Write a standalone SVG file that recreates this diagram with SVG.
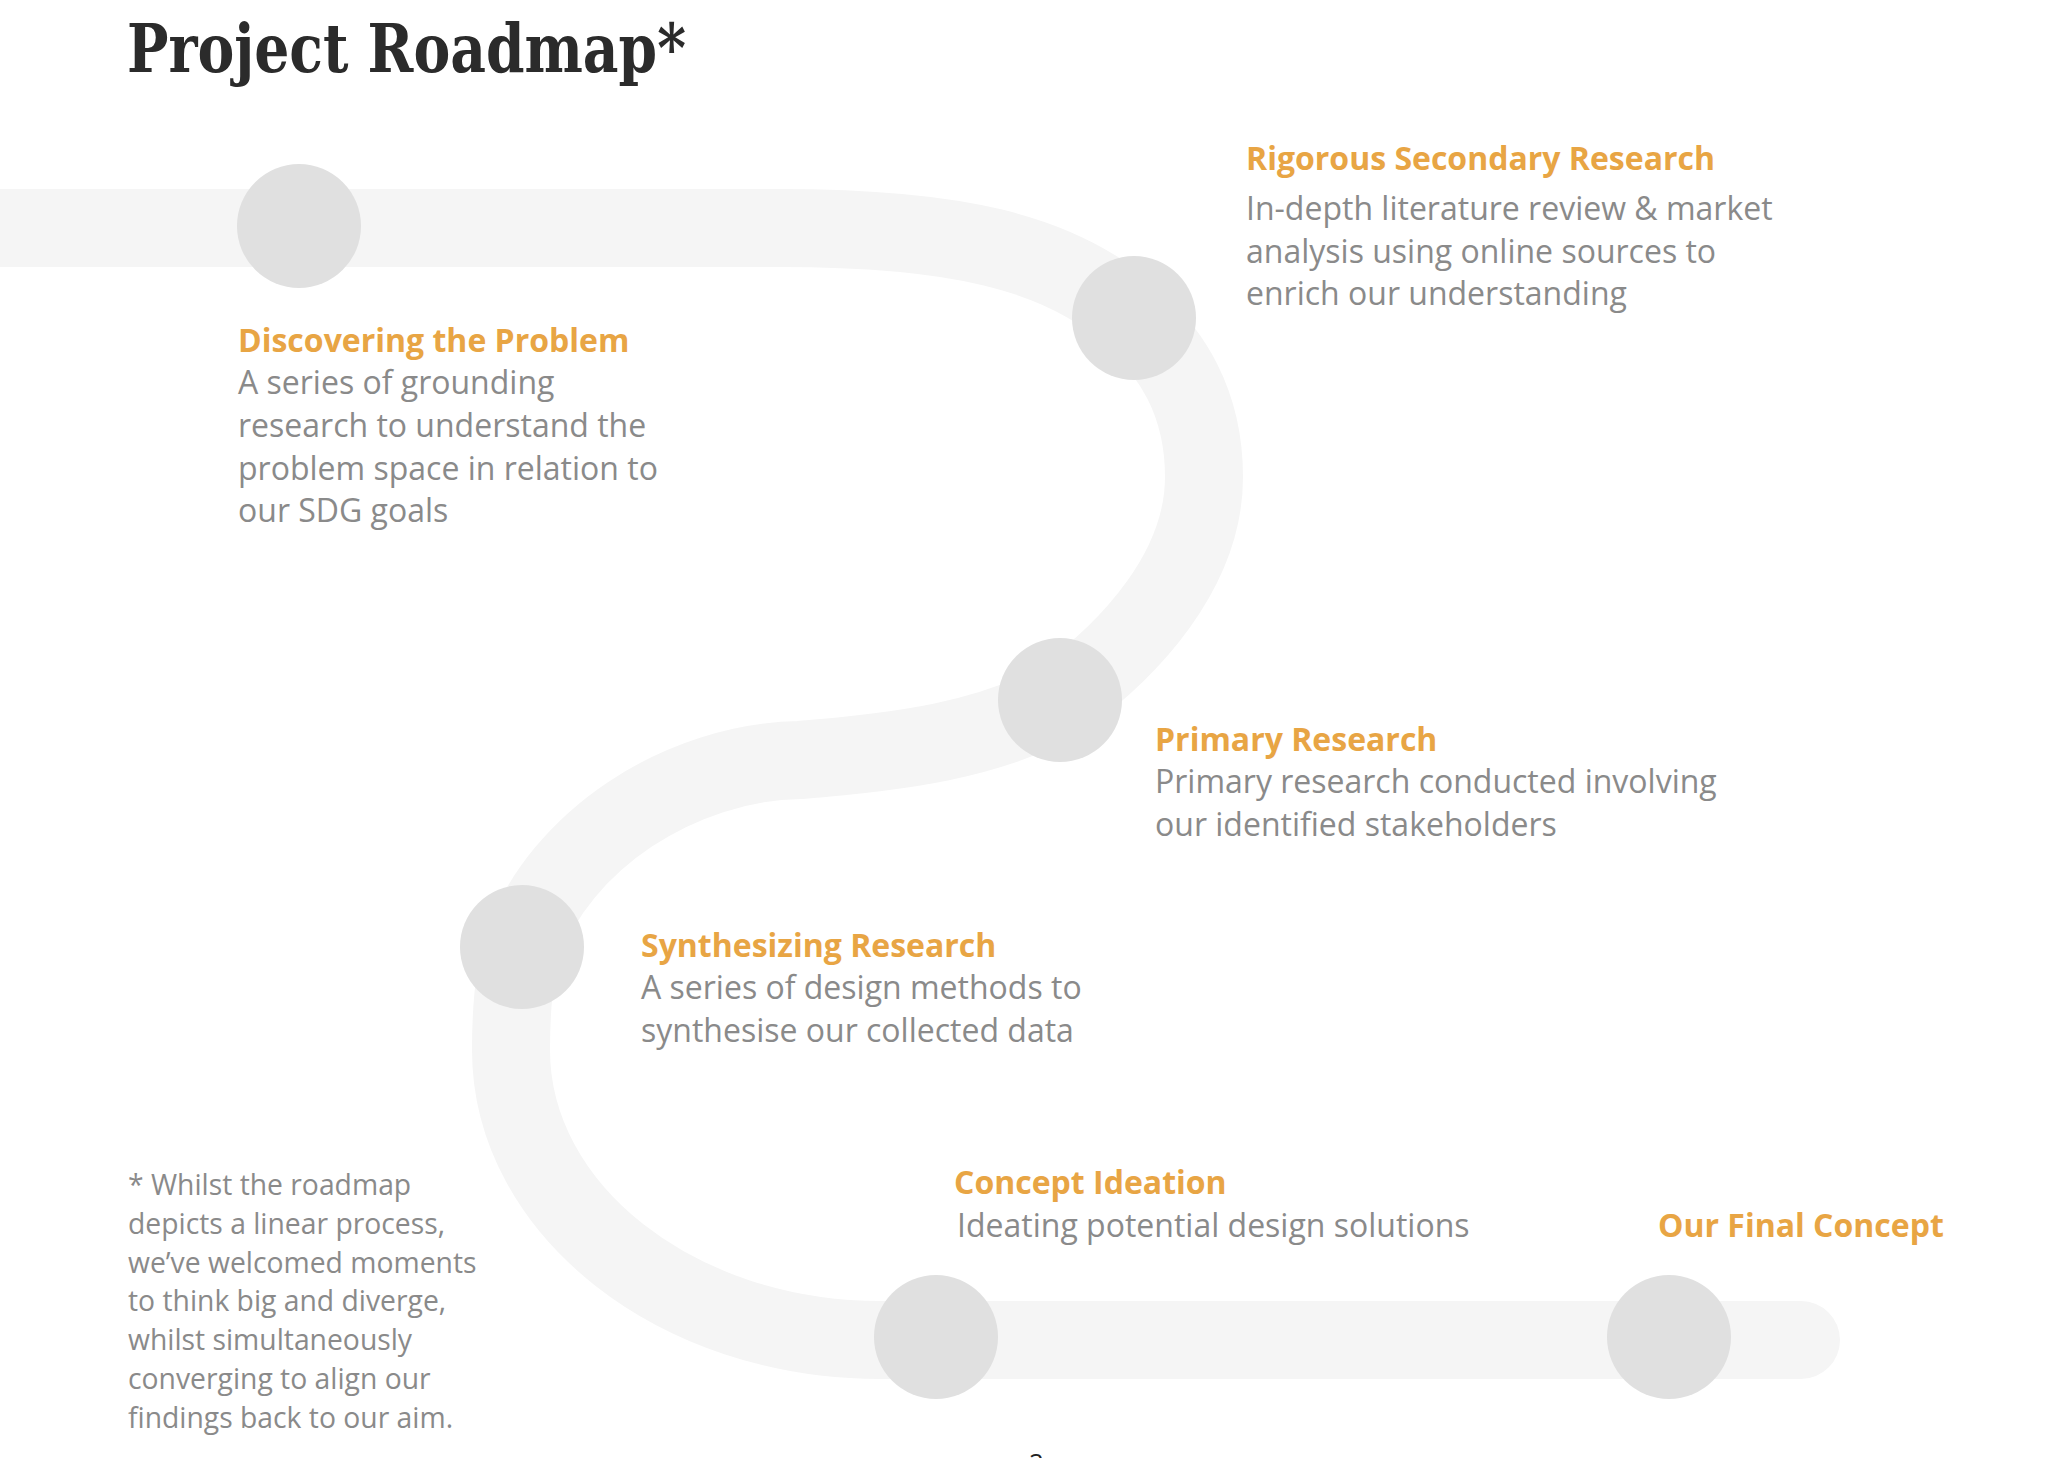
<svg xmlns="http://www.w3.org/2000/svg" width="2072" height="1458" viewBox="0 0 2072 1458">
<style>
.road{fill:none;stroke:#f5f5f5;stroke-width:78;stroke-linecap:round;stroke-linejoin:round}
.dot{fill:#e0e0e0}
.h{font-family:"Open Sans","Noto Sans","Liberation Sans",sans-serif;font-weight:700;font-size:32px;fill:#e8a544}
.b{font-family:"Open Sans","Noto Sans","Liberation Sans",sans-serif;font-weight:400;font-size:32px;fill:#8a8a8a}
.f{font-family:"Open Sans","Noto Sans","Liberation Sans",sans-serif;font-weight:400;font-size:28.3px;fill:#8a8a8a}
.t{font-family:"DejaVu Serif Condensed","DejaVu Serif",serif;font-stretch:condensed;font-weight:700;font-size:68px;fill:#2b2b2b}
</style>
<rect width="2072" height="1458" fill="#ffffff"/>
<text class="t" x="127" y="72" textLength="559" lengthAdjust="spacingAndGlyphs">Project Roadmap*</text>
<g id="connectors">
<path class="road" d="M -60 228 H 780 C 950 228 1060 250 1134 318 C 1170 353 1204 400 1204 477 C 1204 570 1130 650 1060 700 C 990 740 900 752 800 760 C 680 762 560 840 522 947 C 513 978 511 1015 511 1050 C 511 1210 677 1340 880 1340 H 1801"/>
</g>
<g id="node-discovering">
<circle class="dot" cx="299" cy="226" r="62"/>
<text class="h" x="238" y="352">Discovering the Problem</text>
<text class="b" x="238" y="394">A series of grounding</text>
<text class="b" x="238" y="437">research to understand the</text>
<text class="b" x="238" y="480">problem space in relation to</text>
<text class="b" x="238" y="522">our SDG goals</text>
</g>
<g id="node-secondary">
<circle class="dot" cx="1134" cy="318" r="62"/>
<text class="h" x="1246" y="170">Rigorous Secondary Research</text>
<text class="b" x="1246" y="220">In-depth literature review &amp; market</text>
<text class="b" x="1246" y="263">analysis using online sources to</text>
<text class="b" x="1246" y="305">enrich our understanding</text>
</g>
<g id="node-primary">
<circle class="dot" cx="1060" cy="700" r="62"/>
<text class="h" x="1155" y="751">Primary Research</text>
<text class="b" x="1155" y="793">Primary research conducted involving</text>
<text class="b" x="1155" y="836">our identified stakeholders</text>
</g>
<g id="node-synthesizing">
<circle class="dot" cx="522" cy="947" r="62"/>
<text class="h" x="641" y="957">Synthesizing Research</text>
<text class="b" x="641" y="999">A series of design methods to</text>
<text class="b" x="641" y="1042">synthesise our collected data</text>
</g>
<g id="node-ideation">
<circle class="dot" cx="936" cy="1337" r="62"/>
<text class="h" x="954" y="1194">Concept Ideation</text>
<text class="b" x="957" y="1237">Ideating potential design solutions</text>
</g>
<g id="node-final">
<circle class="dot" cx="1669" cy="1337" r="62"/>
<text class="h" x="1658" y="1237">Our Final Concept</text>
</g>
<g id="footnote">
<text class="f" x="128" y="1195">* Whilst the roadmap</text>
<text class="f" x="128" y="1234">depicts a linear process,</text>
<text class="f" x="128" y="1273">we’ve welcomed moments</text>
<text class="f" x="128" y="1311">to think big and diverge,</text>
<text class="f" x="128" y="1350">whilst simultaneously</text>
<text class="f" x="128" y="1389">converging to align our</text>
<text class="f" x="128" y="1428">findings back to our aim.</text>
</g>
<text x="1029" y="1472" font-family="Open Sans, sans-serif" font-size="26" fill="#222222">2</text>
</svg>
